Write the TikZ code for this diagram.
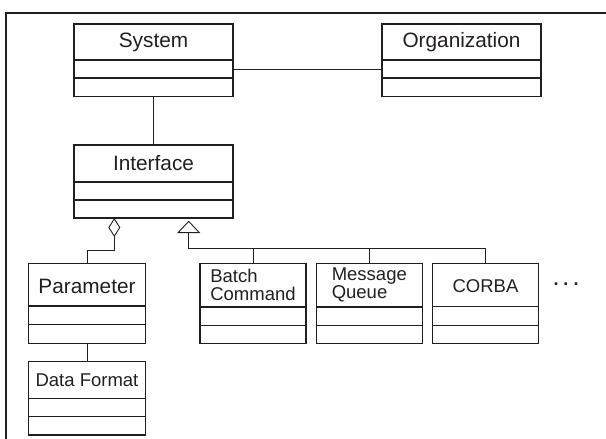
\documentclass[tikz,border=0pt]{standalone}
\usepackage{fontspec}
\setmainfont{Liberation Sans}
\usetikzlibrary{arrows.meta}
\definecolor{ink}{HTML}{231F20}
\newcommand\clsbig{\fontsize{20.8}{22}\selectfont}
\newcommand\clssmall{\fontsize{18.5}{18.4}\selectfont}
\tikzset{
  clsbox/.style={draw=ink, line width=1.2pt, inner sep=0pt, outer sep=0pt, rectangle},
  clsline/.style={draw=ink, line width=1.2pt},
  clstext/.style={inner sep=0pt, outer sep=0pt, text=ink},
  conn/.style={draw=ink, line width=0.9pt},
  frameline/.style={draw=ink, line width=1.6pt},
}
% #1 name, #2 left, #3 top, #4 right, #5 divider 1, #6 divider 2, #7 bottom, #8 text, #9 text options
\newcommand\umlcls[9]{%
  \node[clsbox, minimum width={(#4-#2)*1pt}, minimum height={(#7-#3)*1pt}, anchor=north west] (#1) at (#2,#3) {};
  \draw[clsline] (#1.west |- 0,#5) -- (#1.east |- 0,#5);
  \draw[clsline] (#1.west |- 0,#6) -- (#1.east |- 0,#6);
  \node[clstext,#9] (#1-t) at ({(#2+#4)/2},{(#3+#5)/2}) {#8};
}
\begin{document}
\begin{tikzpicture}[x=1pt,y=-1pt]
\useasboundingbox (0,0) rectangle (606,439);
% frame (top and left edges)
\draw[frameline] (606,12.7) -- (6,12.7) -- (6,439);

\umlcls{sys}{74}{24}{233}{60}{78}{96.5}{System}{font=\clsbig}
\umlcls{org}{382}{24}{541}{60}{78}{96.5}{Organization}{font=\clsbig}
\umlcls{int}{74}{145}{233}{182}{200}{218}{Interface}{font=\clsbig}
\umlcls{par}{28.3}{263.3}{145.7}{306}{324.7}{343.3}{Parameter}{font=\clsbig, yshift=-1.5pt}
\umlcls{df}{28.3}{361.7}{145.7}{398.3}{416.7}{435}{Data Format}{font=\clssmall}
\umlcls{bc}{200}{263.3}{306}{307}{325.3}{343.3}{Batch\\Command}{font=\clssmall, align=left}
\umlcls{mq}{316.3}{263.3}{422.3}{307}{325.3}{343.3}{Message\\Queue}{font=\clssmall, align=left}
\umlcls{cor}{432.7}{263.3}{538.3}{306.7}{325.3}{343.3}{CORBA}{font=\clssmall, yshift=-1.5pt}

\node[clstext, font=\fontsize{18}{18}\selectfont\bfseries, anchor=base west] (more) at (553.5,285.2) {.\ .\ .};

% associations
\draw[conn] ([yshift=-8.75pt]sys.east) -- ([yshift=-8.75pt]org.west);
\draw[conn] (sys.south) -- (int.south |- sys.south) -- (int.north);
\draw[conn] (par.south) -- (df.north);

% aggregation
\coordinate (aggtip) at ([xshift=-39.2pt]int.south);
\draw[conn, -{Diamond[open, length=19pt, width=12pt]}] (par.north) -- ++(0,-12.6) -| (aggtip);

% generalization
\coordinate (gentip) at ([xshift=35.2pt, yshift=-2.7pt]int.south);
\draw[conn, -{Triangle[open, length=12.3pt, width=23pt]}] (cor.north) -- ++(0,-15.3) -| (gentip);
\draw[conn] (bc.north) -- ++(0,-15.3);
\draw[conn] (mq.north) -- ++(0,-15.3);
\end{tikzpicture}
\end{document}
